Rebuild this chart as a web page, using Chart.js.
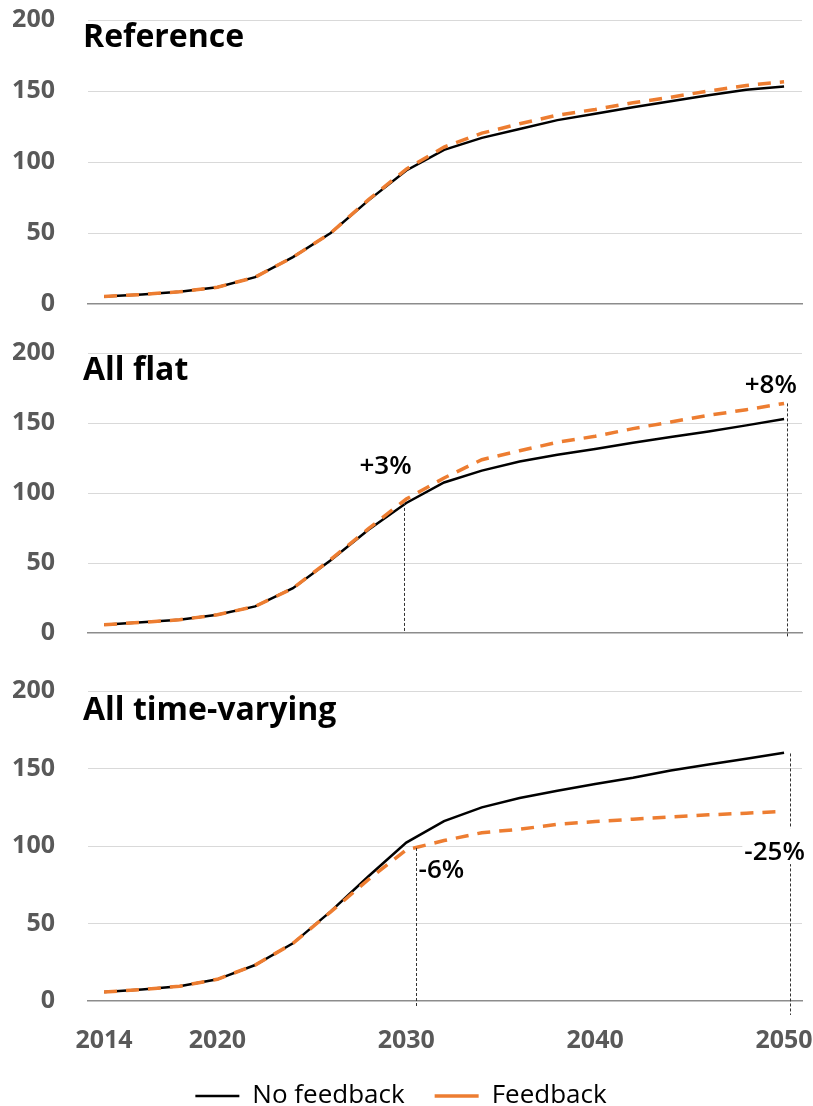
<!DOCTYPE html>
<html><head><meta charset="utf-8">
<script src="https://cdn.jsdelivr.net/npm/chart.js@4.4.1/dist/chart.umd.min.js"></script>
<style>
html,body{margin:0;padding:0;background:#fff;overflow:hidden;width:813px;height:1106px;position:relative;}
.p{position:absolute;left:0;width:830px;}
</style></head><body>
<div class="p" style="top:0;height:330px"><canvas id="c1"></canvas></div>
<div class="p" style="top:333px;height:330px"><canvas id="c2"></canvas></div>
<div class="p" style="top:671px;height:448px"><canvas id="c3"></canvas></div>
<script>
const years = [2014,2016,2018,2020,2022,2024,2026,2028,2030,2032,2034,2036,2038,2040,2042,2044,2046,2048,2050];
const xTicks = [2014, 2020, 2030, 2040, 2050];
const yTicks = [0, 50, 100, 150, 200];
const seriesNames = ['No feedback', 'Feedback'];
const titles = ['Reference', 'All flat', 'All time-varying'];

const refNoFb  = [5.3,6.7,8.6,11.8,18.9,33,50,73,94,108.5,117,123.3,129.5,134,138.5,142.8,147,150.8,153.2];
const refFb    = [5.3,6.7,8.6,11.8,18.9,33,50,73.5,95,110.5,120.3,126.9,133,137,141.7,145.6,150,153.9,156.5];
const flatNoFb = [5.9,7.6,9.5,13,19,32,52,73.8,92.9,107.5,116,122.5,127.3,131.4,135.9,140,144,148.3,152.9];
const flatFb   = [5.9,7.6,9.5,13,19,32,52.5,74.5,95.7,110.7,123.8,130.2,136.2,140.5,146,150.7,155.5,159.5,164];
const tvNoFb   = [5.8,7.4,9.5,14,23.2,37.2,57.8,80.5,102.2,116,124.9,131,135.7,140,144,148.7,152.6,156.3,160.2];
const tvFb     = [5.8,7.4,9.5,14,23.2,37.2,57.5,78.4,97.5,103.5,108.6,110.8,114,115.8,117.3,118.8,120.1,121.2,122.3];

// annotation: dotted guide from value "top" to "bottom" at year x; label at (lx, ly)
const flatNotes = [
  {x:2029.9, top:92.9, bottom:0, label:'+3%', lx:2028.9, ly:113.6, align:'center'},
  {x:2050.15, top:164, bottom:-3, label:'+8%', lx:2049.3, ly:171.4, align:'center'}
];
const tvNotes = [
  {x:2030.5, top:98.7, bottom:-4, label:'-6%', lx:2030.65, ly:79.2, align:'left'},
  {x:2050.32, top:159.7, bottom:-9, label:'-25%', lx:2049.5, ly:90.9, align:'center', bg:true}
];
const titleValue = 181;

const GRAY = '#595959';
const ORANGE = '#ED7D31';
Chart.defaults.font.family = "'Open Sans', 'Noto Sans', sans-serif";

function pts(vals){ return vals.map((v,i)=>({x: years[i], y: v})); }

function textPlugin(title, notes){
  return {
    id: 'panelText',
    afterDraw(chart){
      const {ctx, chartArea, scales:{x, y}} = chart;
      ctx.save();
      ctx.font = "bold 32px 'Open Sans', 'Noto Sans', sans-serif";
      ctx.fillStyle = '#000'; ctx.textAlign = 'left'; ctx.textBaseline = 'alphabetic';
      ctx.fillText(title, chartArea.left - 5, y.getPixelForValue(titleValue));
      notes.forEach(n => {
        const px = Math.round(x.getPixelForValue(n.x)) + 0.5;
        ctx.beginPath(); ctx.setLineDash([3,2]); ctx.lineWidth = 1; ctx.strokeStyle = '#333';
        ctx.moveTo(px, y.getPixelForValue(n.top)); ctx.lineTo(px, y.getPixelForValue(n.bottom)); ctx.stroke();
        ctx.setLineDash([]);
        ctx.font = "600 26px 'Open Sans', 'Noto Sans', sans-serif";
        ctx.textAlign = n.align;
        const lx = x.getPixelForValue(n.lx), ly = y.getPixelForValue(n.ly);
        if (n.bg) {
          const w = ctx.measureText(n.label).width;
          const left = n.align === 'center' ? lx - w/2 : lx;
          ctx.fillStyle = '#fff'; ctx.fillRect(left - 2, ly - 32, w + 4, 36);
        }
        ctx.fillStyle = '#000'; ctx.fillText(n.label, lx, ly);
      });
      ctx.restore();
    }
  };
}

function makeChart(id, title, noFb, fb, notes, bottomPanel, padBottom){
  return new Chart(document.getElementById(id), {
    type: 'line',
    data: { datasets: [
      {label: seriesNames[0], data: pts(noFb), borderColor:'#000', backgroundColor:'#000', borderWidth:2.5, pointRadius:0, tension:0, order:2},
      {label: seriesNames[1], data: pts(fb), borderColor:ORANGE, backgroundColor:ORANGE, borderWidth:3.5, borderDash:[13,9], pointRadius:0, tension:0, order:1}
    ]},
    options: {
      responsive: true, maintainAspectRatio: false, animation: false, devicePixelRatio: 1,
      layout: { padding: {top:20, bottom: padBottom, left:0, right:28} },
      plugins: {
        tooltip: {enabled:false},
        legend: {
          display: bottomPanel, position: 'bottom',
          labels: {usePointStyle:true, pointStyle:'line', pointStyleWidth:44, color:'#000',
                   font:{size:26}, padding:30, sort:(a,b)=>a.datasetIndex-b.datasetIndex}
        }
      },
      scales: {
        x: {
          type:'linear', min:2013.15, max:2050.95,
          afterBuildTicks: s => { s.ticks = xTicks.map(v=>({value:v})); },
          ticks: {display: bottomPanel, color:GRAY, font:{size:25, weight:'bold'}, padding:25, maxRotation:0, autoSkip:false, callback: v => String(v)},
          grid: {display:false, drawTicks:false},
          border: {display:true, color:'#8c8c8c', width:1.5},
          afterFit: s => { s.height = bottomPanel ? 52 : 0; s.paddingLeft = 0; s.paddingRight = 0; }
        },
        y: {
          min:0, max:200,
          afterBuildTicks: s => { s.ticks = yTicks.map(v=>({value:v})); },
          ticks: {color:GRAY, font:{size:25, weight:'bold'}, padding:33},
          grid: {color: c => (c.tick && c.tick.value === 0) ? 'rgba(0,0,0,0)' : '#d9d9d9', lineWidth:1, drawTicks:false},
          border: {display:false},
          afterFit: s => { s.width = 88; s.paddingTop = 15; s.paddingBottom = 15; }
        }
      }
    },
    plugins: [textPlugin(title, notes)]
  });
}

makeChart('c1', titles[0], refNoFb, refFb, [], false, 26);
makeChart('c2', titles[1], flatNoFb, flatFb, flatNotes, false, 30);
makeChart('c3', titles[2], tvNoFb, tvFb, tvNotes, true, 0);
</script>
</body></html>
